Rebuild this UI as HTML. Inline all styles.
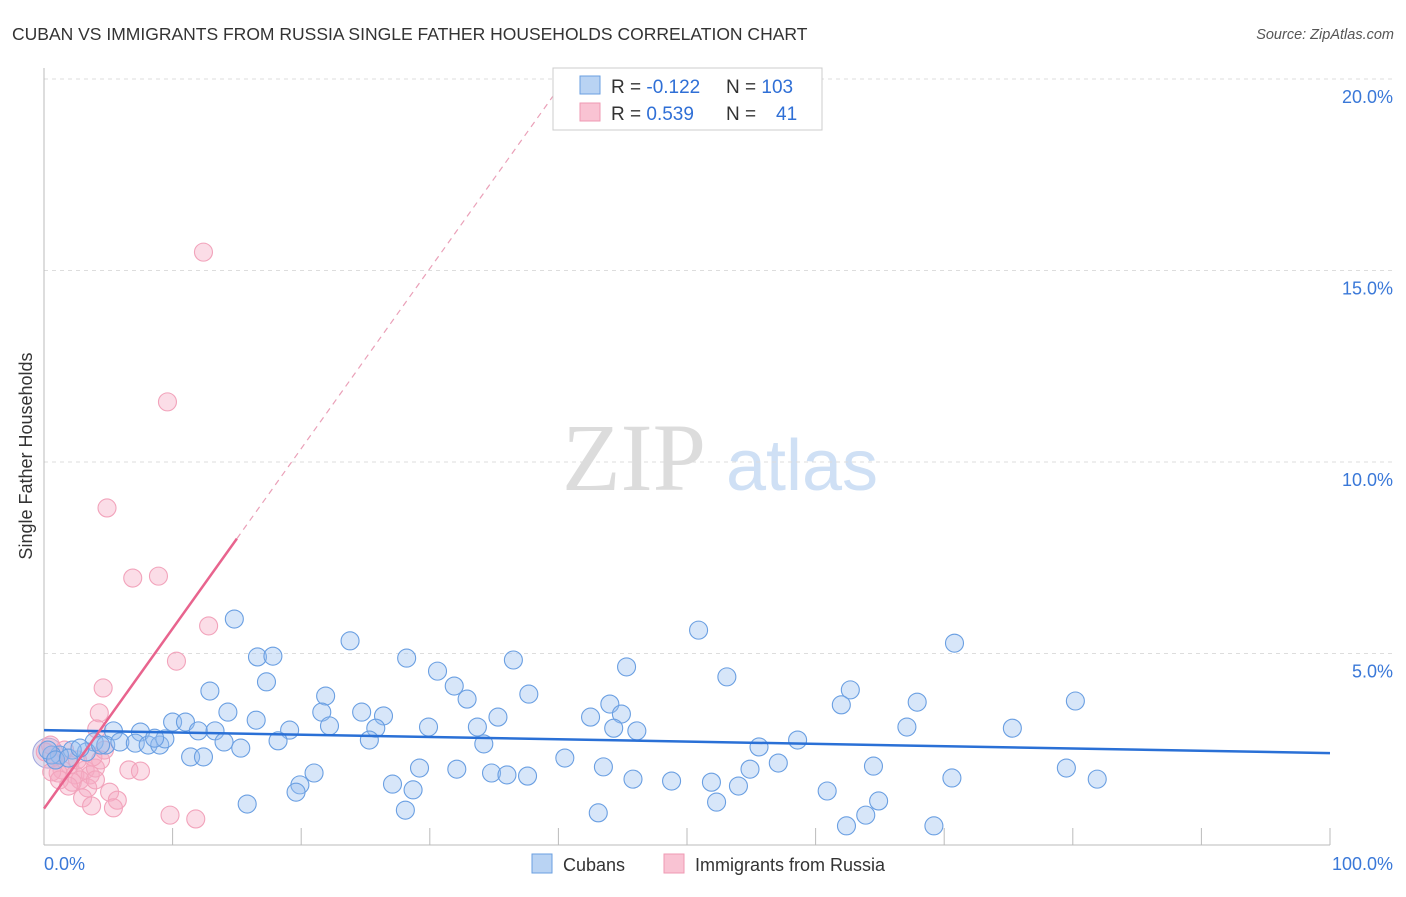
<!DOCTYPE html>
<html><head><meta charset="utf-8"><style>
body{margin:0;background:#fff;font-family:"Liberation Sans",sans-serif;}
</style></head><body>
<svg id="c" width="1406" height="892" xmlns="http://www.w3.org/2000/svg" font-family="Liberation Sans, sans-serif">
<text x="12" y="40" font-size="17.5" fill="#333">CUBAN VS IMMIGRANTS FROM RUSSIA SINGLE FATHER HOUSEHOLDS CORRELATION CHART</text>
<text x="1394" y="39" font-size="14.5" fill="#555" font-style="italic" text-anchor="end">Source: ZipAtlas.com</text>
<text x="32" y="456" font-size="18" fill="#333" text-anchor="middle" transform="rotate(-90 32 456)">Single Father Households</text>
<g><text x="634" y="490" font-size="96" fill="#dcdcdc" text-anchor="middle" style="font-family:'Liberation Serif',serif">ZIP</text><text x="802" y="490" font-size="72" fill="#cfe0f5" text-anchor="middle">atlas</text></g>
<g id="grid"></g><g id="axes"></g><g id="pts"></g><g id="trend"></g>
<g>
<rect x="553" y="68" width="269" height="62" fill="#fff" stroke="#ccc"/>
<rect x="580" y="76" width="20" height="18" fill="#b9d3f3" stroke="#6a9fe0"/>
<rect x="580" y="103" width="20" height="18" fill="#f9c3d3" stroke="#ef9ab3"/>
<text x="611" y="93" font-size="19" fill="#333">R = <tspan fill="#2f6fd6">-0.122</tspan><tspan x="726">N = </tspan><tspan fill="#2f6fd6">103</tspan></text>
<text x="611" y="120" font-size="19" fill="#333">R = <tspan fill="#2f6fd6"> 0.539</tspan><tspan x="726">N = </tspan><tspan x="776" fill="#2f6fd6">41</tspan></text>
</g>
<g>
<rect x="532" y="854" width="20" height="19" fill="#b9d3f3" stroke="#6a9fe0"/><text x="563" y="871" font-size="18" fill="#333">Cubans</text>
<rect x="664" y="854" width="20" height="19" fill="#f9c3d3" stroke="#ef9ab3"/><text x="695" y="871" font-size="18" fill="#333">Immigrants from Russia</text>
</g>
</svg>
<script>
const yTicks=[5,10,15,20];
const yTickLabels=["5.0%","10.0%","15.0%","20.0%"];
const xEndLabels=["0.0%","100.0%"];
const cubanX=[14.8,23.8,16.6,17.8,28.2,36.5,50.9,45.3,70.8,30.6,17.3,12.9,31.9,21.9,32.9,37.7,53.1,62.7,62.0,67.9,80.2,14.3,21.6,24.7,26.4,35.3,42.5,44.0,44.9,10.0,11.0,16.5,12.0,13.3,19.1,22.2,25.8,29.9,33.7,44.3,46.1,67.1,75.3,5.4,7.5,3.9,4.8,5.9,7.1,8.1,9.0,9.4,8.6,14.0,15.3,18.2,25.3,34.2,58.6,55.6,11.4,12.4,3.3,2.2,1.2,0.6,40.5,57.1,43.5,29.2,32.1,34.8,36.0,37.6,54.9,64.5,79.5,21.0,19.9,19.6,27.1,28.7,45.8,48.8,51.9,54.0,70.6,81.9,15.8,28.1,43.1,52.3,60.9,64.9,63.9,62.4,69.2,0.3,0.9,1.9,2.8,4.4];
const cubanY=[5.90,5.33,4.91,4.93,4.88,4.83,5.61,4.65,5.27,4.54,4.26,4.02,4.15,3.89,3.81,3.94,4.39,4.05,3.66,3.73,3.76,3.47,3.47,3.47,3.37,3.34,3.34,3.68,3.42,3.21,3.21,3.26,2.98,2.98,3.00,3.11,3.05,3.08,3.08,3.05,2.98,3.08,3.05,2.98,2.95,2.69,2.61,2.69,2.66,2.61,2.61,2.77,2.79,2.69,2.53,2.72,2.74,2.64,2.74,2.56,2.30,2.30,2.43,2.48,2.35,2.35,2.27,2.14,2.04,2.01,1.98,1.88,1.83,1.80,1.98,2.06,2.01,1.88,1.57,1.38,1.59,1.44,1.72,1.67,1.64,1.54,1.75,1.72,1.07,0.91,0.84,1.12,1.41,1.15,0.78,0.50,0.50,2.48,2.22,2.27,2.53,2.61];
const russiaX=[12.4,9.6,4.9,6.9,8.9,12.8,10.3,4.6,4.3,4.1,0.5,0.9,1.4,2.0,1.1,2.4,3.2,3.6,4.0,2.8,2.2,3.4,3.0,5.1,5.7,3.7,5.4,6.6,7.5,4.0,9.8,11.8,1.6,0.6,1.2,2.6,0.1,1.9,4.4,3.8,4.7];
const russiaY=[15.48,11.57,8.80,6.97,7.02,5.72,4.80,4.10,3.45,3.03,2.61,2.22,1.96,2.09,1.88,1.83,1.96,1.83,2.01,1.70,1.64,1.49,1.23,1.38,1.17,1.02,0.97,1.96,1.93,1.70,0.78,0.68,2.48,1.91,1.70,2.22,2.43,1.54,2.22,2.30,2.48];
const cubanTrend=[3.00,2.40];
const russiaTrend=[0.95,8.0,15,20.0];
const X0=44,X1=1330,Y0=845,Y20=79;
const sx=v=>X0+(X1-X0)*v/100;
const sy=v=>Y0-(Y0-Y20)*v/20;
const NS="http://www.w3.org/2000/svg";
function mk(p,t,a){const e=document.createElementNS(NS,t);for(const k in a)e.setAttribute(k,a[k]);document.getElementById(p).appendChild(e);return e;}
yTicks.forEach((t,i)=>{
 const l=mk('grid','line',{x1:X0,x2:1394,y1:sy(t),y2:sy(t),stroke:'#ddd','stroke-dasharray':'4,4'});
 
 
 const tx=mk('grid','text',{x:1393,y:sy(t)+24,'font-size':18,fill:'#3a78d8','text-anchor':'end'});tx.textContent=yTickLabels[i];
 
 
});
let a=mk('axes','line',{x1:X0,x2:X0,y1:68,y2:Y0,stroke:'#bbb'});


a=mk('axes','line',{x1:X0,x2:X1,y1:Y0,y2:Y0,stroke:'#bbb'});


for(let i=1;i<=10;i++){const t=mk('axes','line',{x1:sx(i*10),x2:sx(i*10),y1:828,y2:Y0,stroke:'#bbb'});
 
 }
let t1=mk('axes','text',{x:44,y:870,'font-size':18,fill:'#3a78d8'});t1.textContent=xEndLabels[0];


t1=mk('axes','text',{x:1393,y:870,'font-size':18,fill:'#3a78d8','text-anchor':'end'});t1.textContent=xEndLabels[1];


let big=mk('pts','circle',{cx:sx(0.3),cy:sy(2.4),r:15,fill:'rgba(180,160,210,0.35)',stroke:'#9fa6dd'});


russiaX.forEach((v,i)=>{const c=mk('pts','circle',{cx:sx(v),cy:sy(russiaY[i]),r:9,fill:'rgba(246,170,195,0.4)',stroke:'#f2a3bb','stroke-width':1.1});
 
 });
cubanX.forEach((v,i)=>{const c=mk('pts','circle',{cx:sx(v),cy:sy(cubanY[i]),r:9,fill:'rgba(150,188,238,0.38)',stroke:'#6a9fe2','stroke-width':1.1});
 
 });
let tl=mk('trend','line',{x1:sx(0),y1:sy(cubanTrend[0]),x2:sx(100),y2:sy(cubanTrend[1]),stroke:'#2a70d6','stroke-width':2.5});


const slope=(russiaTrend[1]-russiaTrend[0])/15;
tl=mk('trend','line',{x1:sx(0),y1:sy(russiaTrend[0]),x2:sx(15),y2:sy(russiaTrend[1]),stroke:'#e8648e','stroke-width':2.5});


const xe=(russiaTrend[3]-russiaTrend[0])/slope;
tl=mk('trend','line',{x1:sx(15),y1:sy(russiaTrend[1]),x2:sx(xe),y2:sy(russiaTrend[3]),stroke:'#eaa0b8','stroke-width':1.2,'stroke-dasharray':'6,5'});


</script>
</body></html>
